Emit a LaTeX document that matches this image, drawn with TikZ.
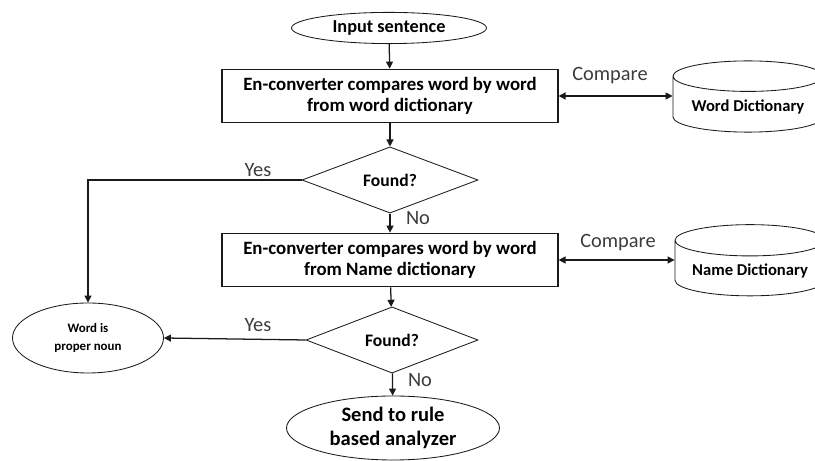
\documentclass[tikz,border=0pt]{standalone}
\usepackage{fontspec}
\setmainfont{Carlito}
\usepackage{tikz}
\usetikzlibrary{arrows.meta,shapes.geometric}
\definecolor{ink}{HTML}{1A1A1A}

\begin{document}
\begin{tikzpicture}[x=1cm,y=1cm,
  terminal/.style={ellipse,draw=ink,line width=0.6pt,inner sep=0pt,align=center,font=\bfseries},
  process/.style={rectangle,draw=ink,line width=0.8pt,minimum width=8.4cm,minimum height=1.34cm,align=center,font=\fontsize{13.4}{15}\selectfont\bfseries},
  decision/.style={diamond,draw=ink,line width=0.6pt,inner sep=0pt,minimum width=4.4cm,minimum height=1.42cm,font=\fontsize{12.5}{14}\selectfont\bfseries},
  store/.style={cylinder,shape border rotate=90,draw=ink,line width=0.6pt,aspect=0.25,minimum width=3.75cm,minimum height=1.78cm,font=\fontsize{11.8}{13}\selectfont\bfseries},
  tag/.style={font=\fontsize{14.5}{16}\selectfont,text=ink!85},
  flow/.style={-{Triangle[length=5pt,width=5pt]},draw=ink,line width=0.9pt},
  both/.style={{Triangle[length=5pt,width=5pt]}-{Triangle[length=5pt,width=5pt]},draw=ink,line width=0.9pt}]
\useasboundingbox (0,0) rectangle (20.375,11.525);
\node[terminal,minimum width=4.875cm,minimum height=0.78cm,font=\fontsize{13}{15}\selectfont\bfseries] (input) at (9.725,10.825) {Input sentence};
\node[process] (wordcmp) at (9.75,9.125) {En-converter compares word by word\\from word dictionary};
\node[decision] (found1) at (9.75,7.025) {Found?};
\node[process] (namecmp) at (9.75,5.025) {En-converter compares word by word\\from Name dictionary};
\node[decision,minimum width=4.3cm,minimum height=1.375cm] (found2) at (9.8,3.025) {Found?};
\node[terminal,minimum width=3.775cm,minimum height=1.75cm,font=\fontsize{9.2}{13}\selectfont\bfseries] (noun) at (2.2,3.075) {Word is\\proper noun};
\node[terminal,minimum width=5.325cm,minimum height=1.6cm,font=\fontsize{14.6}{17.5}\selectfont\bfseries] (rule) at (9.825,0.825) {Send to rule\\based analyzer};
\node[store] (worddict) at (18.7,8.85) {Word Dictionary};
\node[store] (namedict) at (18.75,4.75) {Name Dictionary};
% connectors
\draw[flow] (input) -- (wordcmp);
\draw[flow] (wordcmp) -- (found1);
\draw[flow] (found1) -- (namecmp);
\draw[flow] (namecmp) -- (found2);
\draw[flow] (found2) -- (rule);
\draw[flow] (found1.west) -| (noun.north);
\draw[flow] (found2.west) -- (noun.east);
\draw[both] (wordcmp.east) -- (wordcmp.east -| worddict.west);
\draw[both] (namecmp.east) -- (namecmp.east -| namedict.west);
% labels
\node[tag] (yes1) at (6.45,7.275) {Yes};
\node[tag] (no1) at (10.45,6.075) {No};
\node[tag] (yes2) at (6.45,3.4) {Yes};
\node[tag] (no2) at (10.5,2.025) {No};
\node[tag] (cmp1) at (15.25,9.625) {Compare};
\node[tag] (cmp2) at (15.45,5.45) {Compare};
\end{tikzpicture}
\end{document}
